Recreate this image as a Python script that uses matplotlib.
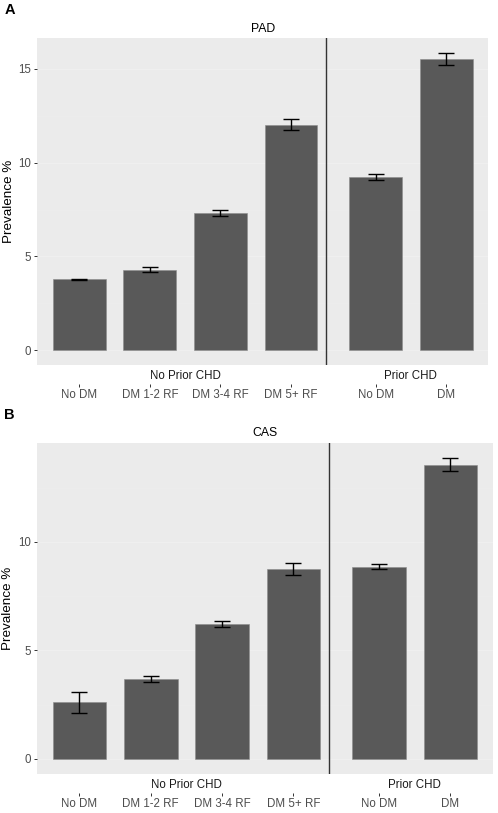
import matplotlib.pyplot as plt
import matplotlib.transforms as mtransforms

plt.rcParams['font.family'] = ['Liberation Sans', 'DejaVu Sans']

# categories
groups = ["No Prior CHD", "Prior CHD"]
no_prior_labels = ["No DM", "DM 1-2 RF", "DM 3-4 RF", "DM 5+ RF"]
prior_labels = ["No DM", "DM"]

# panel A: PAD prevalence (%) with error bar bounds
pad_vals = [3.78, 4.28, 7.29, 12.0, 9.23, 15.5]
pad_lo = [3.75, 4.15, 7.14, 11.72, 9.08, 15.2]
pad_hi = [3.81, 4.43, 7.45, 12.32, 9.38, 15.85]

# panel B: CAS prevalence (%) with error bar bounds
cas_vals = [2.61, 3.69, 6.20, 8.74, 8.86, 13.56]
cas_lo = [2.12, 3.56, 6.07, 8.48, 8.74, 13.27]
cas_hi = [3.10, 3.83, 6.35, 9.02, 8.99, 13.88]

BG = "#EBEBEB"
BAR = "#595959"
TXT = "#4D4D4D"


def draw_panel(ax, title, vals, lo, hi):
    n1 = len(no_prior_labels)
    xs = list(range(1, n1 + 1)) + [n1 + 1.2 + i for i in range(len(prior_labels))]
    labels = no_prior_labels + prior_labels
    ax.set_facecolor(BG)
    ymax = max(hi)
    pad = ymax * 0.05
    ax.set_ylim(-pad, ymax + pad)
    ax.set_xlim(0.4, xs[-1] + 0.6)
    ax.set_yticks([0, 5, 10, 15] if ymax > 15 else [0, 5, 10])
    for y in [0, 5, 10, 15]:
        ax.axhline(y, color="#F0F0F0", lw=0.6, zorder=0.5)
    for y in [2.5, 7.5, 12.5]:
        ax.axhline(y, color="#EEEEEE", lw=0.4, zorder=0.5)
    ax.bar(xs, vals, width=0.75, color=BAR, edgecolor="#8c8c8c", linewidth=0.4, zorder=2)
    yerr = [[v - l for v, l in zip(vals, lo)], [h - v for v, h in zip(vals, hi)]]
    ax.errorbar(xs, vals, yerr=yerr, fmt="none", ecolor="black", elinewidth=1.0,
                capsize=5.5, capthick=1.0, zorder=3)
    ax.axvline(n1 + 0.5, color="#333333", lw=1.0, zorder=3)

    for s in ax.spines.values():
        s.set_visible(False)
    ax.spines["bottom"].set_position(("outward", 14))
    ax.set_xticks(xs)
    ax.set_xticklabels(labels, fontsize=8.3, color=TXT)
    ax.tick_params(axis="x", length=2.2, width=0.7, color="#333333", pad=1.2)
    ax.tick_params(axis="y", length=2.5, width=0.7, color="#333333", pad=1.5,
                   labelsize=8.3, labelcolor=TXT)

    # facet strip labels placed under the panel
    trans = mtransforms.blended_transform_factory(ax.transData, ax.transAxes)
    centers = [(1 + n1) / 2, (xs[n1] + xs[-1]) / 2]
    for c, g in zip(centers, groups):
        ax.annotate(g, xy=(c, 0), xycoords=trans, xytext=(0, -7.8),
                    textcoords="offset points", ha="center", va="center",
                    fontsize=8.3, color="#1A1A1A")

    ax.set_title(title, fontsize=8.8, color="black", pad=4.5)
    ax.text(-0.062, 0.5, "Prevalence %", transform=ax.transAxes, rotation=90,
            ha="center", va="center", fontsize=9.7, color="black")


fig = plt.figure(figsize=(4.98, 8.13), dpi=100)
ax_a = fig.add_axes([0.0743, 0.551, 0.9066, 0.4022])
ax_b = fig.add_axes([0.0737, 0.048, 0.9163, 0.4075])

draw_panel(ax_a, "PAD", pad_vals, pad_lo, pad_hi)
draw_panel(ax_b, "CAS", cas_vals, cas_lo, cas_hi)

fig.text(0.0085, 1 - 9.7 / 813, "A", fontsize=10.5, fontweight="bold", va="center", ha="left")
fig.text(0.0085, 1 - 415 / 813, "B", fontsize=10.5, fontweight="bold", va="center", ha="left")

fig.savefig("out.png", dpi=100)
